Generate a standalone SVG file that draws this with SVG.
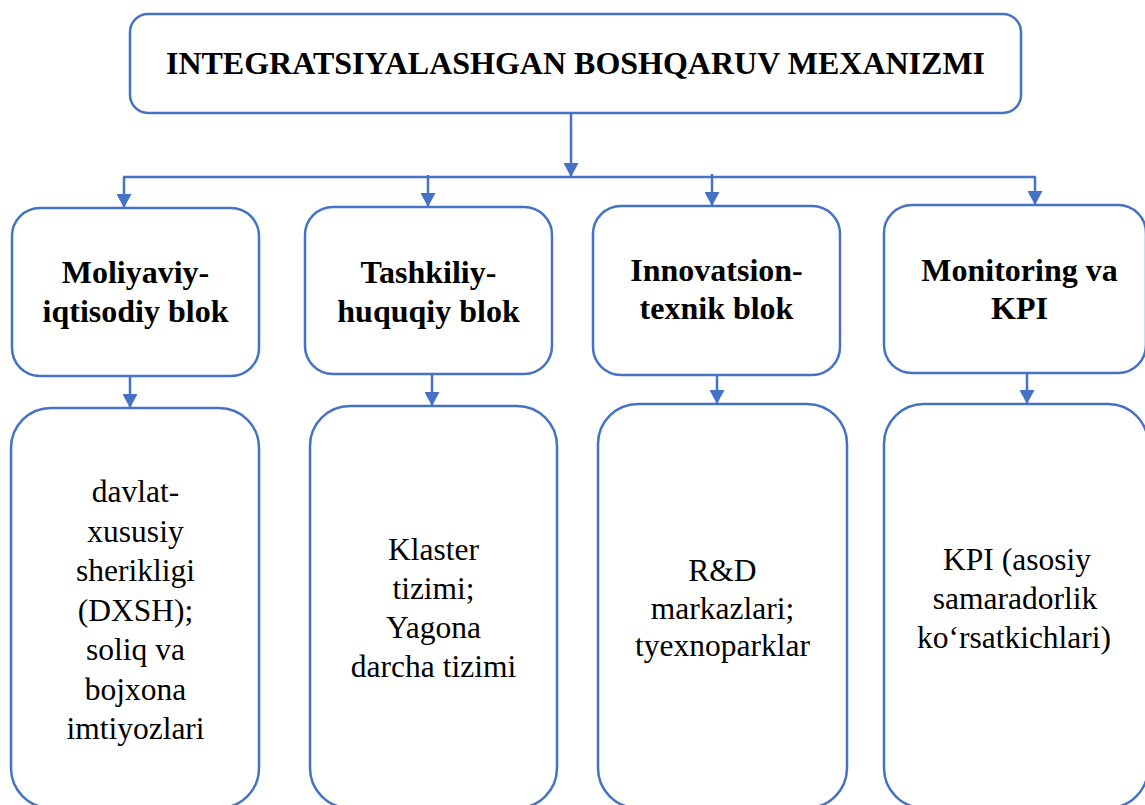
<svg xmlns="http://www.w3.org/2000/svg" width="1145" height="805" viewBox="0 0 1145 805">
<defs>
<style>
.box{fill:#fff;stroke:#4472C4;stroke-width:2.5}
.con{stroke:#4472C4;stroke-width:2.5;fill:none}
.t{font-family:"Liberation Serif","Times New Roman",serif;fill:#000;text-anchor:middle}
.b{font-weight:bold;font-size:32px}
.r{font-size:31.5px}
</style>
<marker id="ah" viewBox="0 0 14 15" refX="14" refY="7.5" markerWidth="14" markerHeight="15" orient="auto" markerUnits="userSpaceOnUse">
<path d="M0,0 L14,7.5 L0,15 z" fill="#4472C4"/>
</marker>
</defs>
<rect width="1145" height="805" fill="#fff"/>
<g id="connectors">
<line class="con" x1="571" y1="113" x2="571" y2="177" marker-end="url(#ah)"/>
<line class="con" x1="123" y1="177" x2="1036" y2="177"/>
<line class="con" x1="124" y1="177" x2="124" y2="208" marker-end="url(#ah)"/>
<line class="con" x1="428" y1="175" x2="428" y2="207" marker-end="url(#ah)"/>
<line class="con" x1="712" y1="174" x2="712" y2="206" marker-end="url(#ah)"/>
<line class="con" x1="1035" y1="177" x2="1035" y2="205" marker-end="url(#ah)"/>
<line class="con" x1="130" y1="376" x2="130" y2="408" marker-end="url(#ah)"/>
<line class="con" x1="432" y1="374" x2="432" y2="406" marker-end="url(#ah)"/>
<line class="con" x1="717" y1="375" x2="717" y2="404" marker-end="url(#ah)"/>
<line class="con" x1="1027" y1="373" x2="1027" y2="404" marker-end="url(#ah)"/>
</g>
<g id="top">
<rect class="box" x="130" y="14" width="891" height="99" rx="18"/>
<text class="t b" x="575.5" y="74">INTEGRATSIYALASHGAN BOSHQARUV MEXANIZMI</text>
</g>
<g id="m1">
<rect class="box" x="12" y="208" width="247" height="168" rx="28"/>
<text class="t b" x="135.5" y="283">Moliyaviy-</text>
<text class="t b" x="135.5" y="322">iqtisodiy blok</text>
</g>
<g id="m2">
<rect class="box" x="305" y="207" width="247" height="167" rx="28"/>
<text class="t b" x="428.5" y="283">Tashkiliy-</text>
<text class="t b" x="428.5" y="322">huquqiy blok</text>
</g>
<g id="m3">
<rect class="box" x="593" y="206" width="247" height="169" rx="28"/>
<text class="t b" x="716.5" y="281">Innovatsion-</text>
<text class="t b" x="716.5" y="319">texnik blok</text>
</g>
<g id="m4">
<rect class="box" x="884" y="205" width="262" height="168" rx="28"/>
<text class="t b" x="1019.5" y="281">Monitoring va</text>
<text class="t b" x="1019.5" y="319">KPI</text>
</g>
<g id="b1">
<rect class="box" x="11" y="408" width="248" height="400" rx="40"/>
<text class="t r" x="135.5" y="502">davlat-</text>
<text class="t r" x="135.5" y="541.5">xususiy</text>
<text class="t r" x="135.5" y="581">sherikligi</text>
<text class="t r" x="135.5" y="620.5">(DXSH);</text>
<text class="t r" x="135.5" y="660">soliq va</text>
<text class="t r" x="135.5" y="699.5">bojxona</text>
<text class="t r" x="135.5" y="739">imtiyozlari</text>
</g>
<g id="b2">
<rect class="box" x="310" y="406" width="247" height="402" rx="40"/>
<text class="t r" x="433.5" y="560">Klaster</text>
<text class="t r" x="433.5" y="598.5">tizimi;</text>
<text class="t r" x="433.5" y="637.5">Yagona</text>
<text class="t r" x="433.5" y="676.5">darcha tizimi</text>
</g>
<g id="b3">
<rect class="box" x="598" y="404" width="249" height="404" rx="40"/>
<text class="t r" x="722.5" y="581">R&amp;D</text>
<text class="t r" x="722.5" y="618.5">markazlari;</text>
<text class="t r" x="722.5" y="656">tyexnoparklar</text>
</g>
<g id="b4">
<rect class="box" x="884" y="404" width="264" height="404" rx="40"/>
<text class="t r" x="1017" y="570">KPI (asosiy</text>
<text class="t r" x="1015" y="608.5">samaradorlik</text>
<text class="t r" x="1014" y="647.5">ko‘rsatkichlari)</text>
</g>
</svg>
